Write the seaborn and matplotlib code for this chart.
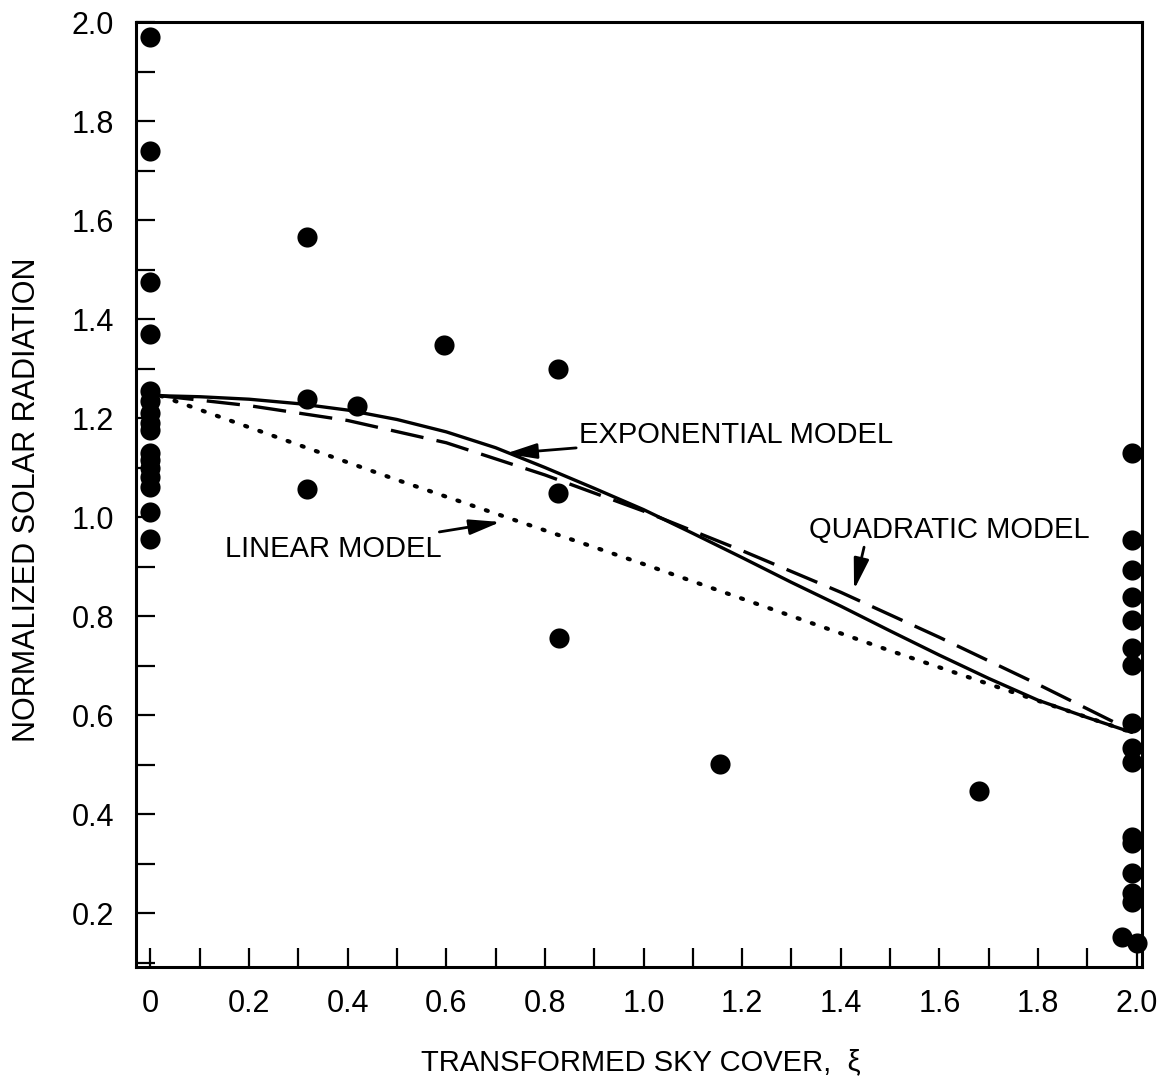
import numpy as np
import pandas as pd
import matplotlib
matplotlib.use("Agg")
import matplotlib.pyplot as plt
from matplotlib.ticker import MultipleLocator, FixedLocator, FixedFormatter
import seaborn as sns

# ---- data ----
obs_x_left = [0.0] * 16
obs_y_left = [1.97, 1.74, 1.475, 1.37, 1.255, 1.235, 1.21, 1.19, 1.175,
              1.13, 1.115, 1.10, 1.08, 1.06, 1.01, 0.955]
obs_x_mid = [0.318, 0.318, 0.318, 0.418, 0.596, 0.826, 0.826, 0.828, 1.156, 1.68]
obs_y_mid = [1.566, 1.238, 1.057, 1.224, 1.347, 1.299, 1.048, 0.756, 0.501, 0.446]
obs_x_right = [1.99] * 15 + [1.97, 2.0]
obs_y_right = [1.13, 0.953, 0.893, 0.838, 0.792, 0.735, 0.701, 0.584, 0.533,
               0.505, 0.354, 0.341, 0.281, 0.240, 0.222, 0.151, 0.14]

exp_x = [0.02, 0.1, 0.2, 0.3, 0.4, 0.5, 0.6, 0.7, 0.8, 0.9, 1.0, 1.1, 1.2,
         1.3, 1.4, 1.5, 1.6, 1.7, 1.8, 1.9, 1.99]
exp_y = [1.245, 1.243, 1.238, 1.229, 1.216, 1.197, 1.172, 1.140, 1.100, 1.058,
         1.015, 0.967, 0.918, 0.868, 0.820, 0.770, 0.721, 0.674, 0.630, 0.595, 0.565]

quad_x = [0.02, 0.2, 0.4, 0.6, 0.8, 1.0, 1.2, 1.4, 1.6, 1.8, 1.99]
quad_y = [1.245, 1.225, 1.195, 1.15, 1.085, 1.012, 0.932, 0.848, 0.757, 0.662, 0.568]

lin_x = [0.02, 0.5, 1.0, 1.5, 1.99]
lin_y = [1.245, 1.075, 0.905, 0.73, 0.565]

x_tick_labels = ["0", "0.2", "0.4", "0.6", "0.8", "1.0", "1.2", "1.4", "1.6", "1.8", "2.0"]
y_tick_labels = ["0.2", "0.4", "0.6", "0.8", "1.0", "1.2", "1.4", "1.6", "1.8", "2.0"]

obs = pd.DataFrame({"x": obs_x_left + obs_x_mid + obs_x_right,
                    "y": obs_y_left + obs_y_mid + obs_y_right})
exp_df = pd.DataFrame({"x": exp_x, "y": exp_y})
quad_df = pd.DataFrame({"x": quad_x, "y": quad_y})
lin_df = pd.DataFrame({"x": lin_x, "y": lin_y})

sns.set_style("ticks")
FONT = ["Liberation Sans Narrow", "Liberation Sans", "DejaVu Sans"]
plt.rcParams["font.family"] = FONT
plt.rcParams["text.color"] = "black"
plt.rcParams["axes.labelcolor"] = "black"
plt.rcParams["xtick.color"] = "black"
plt.rcParams["ytick.color"] = "black"

fig = plt.figure(figsize=(11.69, 10.86), dpi=100)
ax = fig.add_axes([136 / 1169, 1 - 967 / 1086, (1142 - 136) / 1169, (967 - 22) / 1086])

sns.lineplot(data=exp_df, x="x", y="y", ax=ax, color="black", lw=2.4, sort=False)
sns.lineplot(data=quad_df, x="x", y="y", ax=ax, color="black", lw=2.4, sort=False,
             linestyle=(0, (10, 4)))
sns.lineplot(data=lin_df, x="x", y="y", ax=ax, color="black", lw=3.0, sort=False,
             linestyle=(0, (0.5, 3.1)), dash_capstyle="round")
sns.scatterplot(data=obs, x="x", y="y", ax=ax, color="black", s=210,
                edgecolor="black", linewidth=0, zorder=5, clip_on=False)

ax.set_xlim(-0.0294, 2.011)
ax.set_ylim(0.091, 2.0)

ax.xaxis.set_major_locator(FixedLocator([0.2 * i for i in range(11)]))
ax.xaxis.set_major_formatter(FixedFormatter(x_tick_labels))
ax.xaxis.set_minor_locator(MultipleLocator(0.1))
ax.yaxis.set_major_locator(FixedLocator([0.2 * (i + 1) for i in range(10)]))
ax.yaxis.set_major_formatter(FixedFormatter(y_tick_labels))
ax.yaxis.set_minor_locator(MultipleLocator(0.1))

ax.tick_params(axis="both", which="both", direction="in", length=14, width=1.6,
               top=False, right=False, color="black")
ax.tick_params(axis="both", which="major", labelsize=22, pad=16, labelcolor="black")
for sp in ax.spines.values():
    sp.set_linewidth(2.2)
    sp.set_color("black")

ax.set_xlabel("TRANSFORMED SKY COVER,  ξ", fontsize=21, va="center", color="black")
ax.xaxis.set_label_coords(0.502, -0.1005)
ax.set_ylabel("NORMALIZED SOLAR RADIATION", fontsize=22, va="center", color="black")
ax.yaxis.set_label_coords(-0.108, 0.494)

arrow = dict(arrowstyle="-|>,head_length=0.9,head_width=0.22", color="black", lw=2.0,
             shrinkA=0, shrinkB=0)
ax.annotate("EXPONENTIAL MODEL", xy=(0.72, 1.128), xytext=(0.87, 1.166),
            fontsize=21, va="center", ha="left", arrowprops=arrow)
ax.annotate("LINEAR MODEL", xy=(0.71, 0.99), xytext=(0.59, 0.935),
            fontsize=21, va="center", ha="right", arrowprops=arrow)
ax.annotate("QUADRATIC MODEL", xy=(1.427, 0.853), xytext=(1.335, 0.974),
            fontsize=21, va="center", ha="left",
            arrowprops=dict(arrow, relpos=(0.2, 0.0)))

fig.savefig("out.png", dpi=100, facecolor="white")
